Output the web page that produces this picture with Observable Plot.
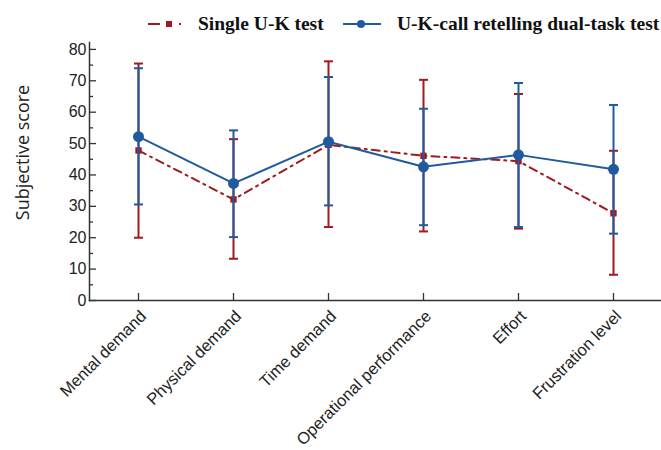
<!DOCTYPE html>
<html>
<head>
<meta charset="utf-8">
<script src="https://cdn.jsdelivr.net/npm/d3@7"></script>
<script src="https://cdn.jsdelivr.net/npm/@observablehq/plot@0.6"></script>
<style>
  body { margin: 0; background: #fff; }
  #legend { height: 34px; position: relative; font-family: "Liberation Serif", "Times New Roman", serif; font-weight: bold; font-size: 19.5px; color: #111; }
  #legend .item { position: absolute; top: 13px; display: flex; align-items: center; line-height: 22px; }
  #legend svg { margin-right: 16px; }
</style>
</head>
<body>
<div id="legend">
  <div class="item" style="left:148px">
    <svg width="34" height="12"><line x1="0" y1="6" x2="12" y2="6" stroke="#9e1b20" stroke-width="2"/><rect x="18" y="3" width="6" height="6" fill="#9e1b20"/><line x1="31" y1="6" x2="33" y2="6" stroke="#9e1b20" stroke-width="2"/></svg>
    <span>Single U-K test</span>
  </div>
  <div class="item" style="left:343px">
    <svg width="38" height="12"><line x1="0" y1="6" x2="38" y2="6" stroke="#1f5b9e" stroke-width="2"/><circle cx="18" cy="6" r="4" fill="#1f5b9e"/></svg>
    <span>U-K-call retelling dual-task test</span>
  </div>
</div>
<div id="chart"></div>
<script>
const categories = ["Mental demand", "Physical demand", "Time demand", "Operational performance", "Effort", "Frustration level"];
const singleMean = [47.8, 32.2, 49.6, 46.1, 44.4, 27.8];
const singleLow  = [20.0, 13.3, 23.4, 22.0, 22.9, 8.2];
const singleHigh = [75.5, 51.4, 76.2, 70.3, 65.8, 47.7];
const dualMean = [52.2, 37.3, 50.6, 42.6, 46.4, 41.8];
const dualLow  = [30.6, 20.2, 30.3, 24.0, 23.4, 21.3];
const dualHigh = [74.0, 54.2, 71.2, 61.1, 69.3, 62.3];
const yMajorTicks = [0, 10, 20, 30, 40, 50, 60, 70, 80];
const yMinorTicks = [5, 15, 25, 35, 45, 55, 65, 75];

const red = "#9e1b20";
const blue = "#1f5b9e";

const single = categories.map((c, i) => ({cat: c, mean: singleMean[i], lo: singleLow[i], hi: singleHigh[i]}));
const dual = categories.map((c, i) => ({cat: c, mean: dualMean[i], lo: dualLow[i], hi: dualHigh[i]}));
const caps = (rows) => rows.flatMap(d => [{cat: d.cat, v: d.lo}, {cat: d.cat, v: d.hi}]);

const capSymbol = {
  draw(ctx, size) {
    const w = Math.sqrt(size / Math.PI);
    ctx.moveTo(-w, 0);
    ctx.lineTo(w, 0);
  }
};

const W = 661, H = 416;
const mL = 89, mR = 0, mT = 8, mB = 150;
const plotW = W - mL - mR, plotH = H - mT - mB;

const chart = Plot.plot({
  width: W,
  height: H,
  marginLeft: mL,
  marginRight: mR,
  marginTop: mT,
  marginBottom: mB,
  style: {fontFamily: "'Liberation Sans', Arial, sans-serif", background: "#fff"},
  x: {type: "point", domain: categories, padding: 0.5},
  y: {domain: [0, 82.2]},
  marks: [
    Plot.axisY({ticks: yMajorTicks, tickSize: 0, tickPadding: 3, fontSize: 16, fill: "#222", label: null}),
    Plot.axisX({tickSize: 0, tickRotate: -45, tickPadding: 13, dx: 5, fontSize: 16.5, fill: "#222", label: null}),
    Plot.text(["Subjective score"], {frameAnchor: "left", textAnchor: "middle", dx: -66, dy: -19, rotate: -90, fontSize: 18, fill: "#222", fontFamily: "'Open Sans', sans-serif"}),
    Plot.tickY(yMajorTicks, {y: d => d, insetRight: plotW - 7, stroke: "#333", strokeWidth: 1.3}),
    Plot.tickY(yMinorTicks, {y: d => d, insetRight: plotW - 4, stroke: "#333", strokeWidth: 1.3}),
    Plot.tickX(categories, {x: d => d, insetTop: plotH - 7, stroke: "#333", strokeWidth: 1.3}),
    Plot.frame({anchor: "left", stroke: "#333", strokeWidth: 1.5}),
    Plot.frame({anchor: "bottom", stroke: "#333", strokeWidth: 1.5}),
    // single series
    Plot.line(single, {x: "cat", y: "mean", stroke: red, strokeWidth: 2, strokeDasharray: "8,5,2,5"}),
    Plot.ruleX(single, {x: "cat", y1: "lo", y2: "hi", stroke: red, strokeWidth: 2}),
    Plot.dot(caps(single), {x: "cat", y: "v", symbol: capSymbol, r: 4.5, stroke: red, strokeWidth: 2, fill: "none"}),
    Plot.dot(single, {x: "cat", y: "mean", symbol: "square", r: 3.6, fill: red}),
    // dual series
    Plot.line(dual, {x: "cat", y: "mean", stroke: blue, strokeWidth: 2}),
    Plot.ruleX(dual, {x: "cat", y1: "lo", y2: "hi", stroke: blue, strokeWidth: 2}),
    Plot.dot(caps(dual), {x: "cat", y: "v", symbol: capSymbol, r: 4.5, stroke: blue, strokeWidth: 2, fill: "none"}),
    Plot.dot(dual, {x: "cat", y: "mean", r: 5.5, fill: blue})
  ]
});
document.getElementById("chart").appendChild(chart);
</script>
</body>
</html>
